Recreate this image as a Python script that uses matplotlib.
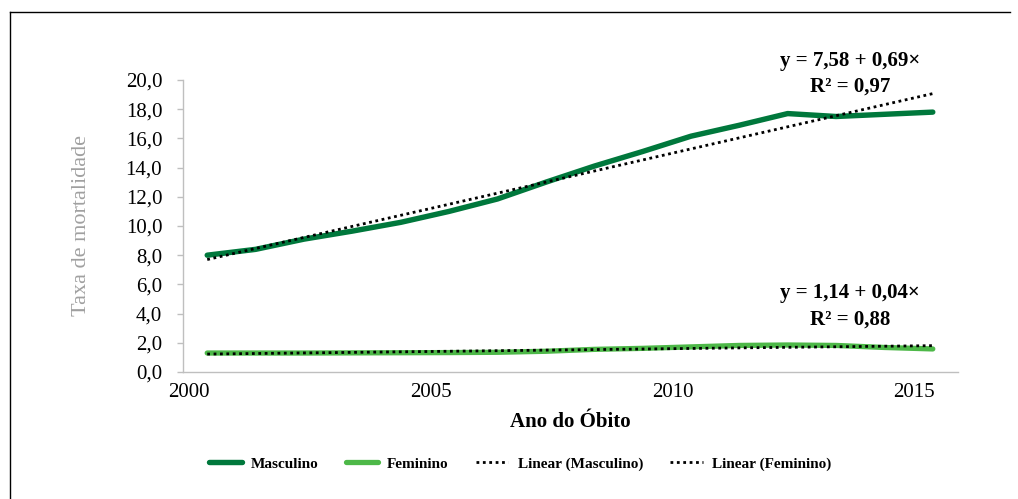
import numpy as np
import matplotlib
matplotlib.use('Agg')
import matplotlib.pyplot as plt
from matplotlib.lines import Line2D

# dados
anos = list(range(2000, 2016))
masculino = [8.0, 8.4, 9.1, 9.65, 10.25, 11.0, 11.85, 13.0, 14.1, 15.1, 16.15, 16.9, 17.7, 17.5, 17.65, 17.8]
feminino = [1.30, 1.30, 1.30, 1.31, 1.32, 1.33, 1.35, 1.42, 1.55, 1.62, 1.72, 1.82, 1.85, 1.82, 1.68, 1.58]
anos_rotulo = [2000, 2005, 2010, 2015]
yticks = np.arange(0, 22, 2)

cor_masc = '#00783c'
cor_fem = '#4db848'

plt.rcParams['font.family'] = ['Liberation Serif', 'DejaVu Serif']

fig = plt.figure(figsize=(10.18, 4.99), dpi=100)
ax = fig.add_axes([0.1798, 0.2545, 0.7612, 0.5852])

x = np.array(anos)
idx = np.arange(1, len(anos) + 1)

# linhas de tendência calculadas a partir dos dados
b_m, a_m = np.polyfit(idx, masculino, 1)
b_f, a_f = np.polyfit(idx, feminino, 1)

ax.plot(x, masculino, color=cor_masc, lw=3.9, solid_capstyle='round', label='Masculino', zorder=2)
ax.plot(x, feminino, color=cor_fem, lw=3.8, solid_capstyle='round', label='Feminino', zorder=2)
ax.plot(x, a_m + b_m * idx, color='black', lw=2.0, ls=(0, (1, 1.3)), label='Linear (Masculino)', zorder=3)
ax.plot(x, a_f + b_f * idx, color='black', lw=2.0, ls=(0, (1, 1.3)), label='Linear (Feminino)', zorder=3)

ax.set_xlim(1999.5, 2015.52)
ax.set_ylim(0, 20)
ax.set_yticks(yticks)
ax.set_yticklabels([f'{v:.1f}'.replace('.', ',') for v in yticks])
ax.set_xticks([a - 0.38 for a in anos_rotulo])
ax.set_xticklabels([str(a) for a in anos_rotulo])

for s in ['top', 'right']:
    ax.spines[s].set_visible(False)
for s in ['left', 'bottom']:
    ax.spines[s].set_color('#bfbfbf')
    ax.spines[s].set_linewidth(1.0)

ax.tick_params(axis='y', length=4.5, width=1.0, color='#bfbfbf', pad=10.5, labelsize=15)
ax.tick_params(axis='x', length=0, pad=8, labelsize=15)

ax.set_ylabel('Taxa de mortalidade', fontsize=16, color='#a0a0a0', labelpad=25)
ax.set_xlabel('Ano do Óbito', fontsize=15, fontweight='bold', labelpad=7)

ax.text(0.861, 1.065, 'y = 7,58 + 0,69×', transform=ax.transAxes, ha='center', va='center',
        fontsize=15, fontweight='bold')
ax.text(0.861, 0.976, 'R² = 0,97', transform=ax.transAxes, ha='center', va='center',
        fontsize=15, fontweight='bold')
ax.text(0.861, 0.27, 'y = 1,14 + 0,04×', transform=ax.transAxes, ha='center', va='center',
        fontsize=15, fontweight='bold')
ax.text(0.861, 0.178, 'R² = 0,88', transform=ax.transAxes, ha='center', va='center',
        fontsize=15, fontweight='bold')

leg = fig.legend(loc='center', bbox_to_anchor=(0.511, 0.07), ncol=4, frameon=False,
                 prop={'size': 11, 'weight': 'bold'}, handlelength=2.1, columnspacing=1.8,
                 handletextpad=0.6)

# moldura (apenas topo e esquerda visíveis)
fig.add_artist(Line2D([10 / 1018, 1010 / 1018], [1 - 12 / 499, 1 - 12 / 499], color='black', lw=1.0))
fig.add_artist(Line2D([10 / 1018, 10 / 1018], [1 - 12 / 499, 0], color='black', lw=1.0))

fig.savefig('out.png', dpi=100)
